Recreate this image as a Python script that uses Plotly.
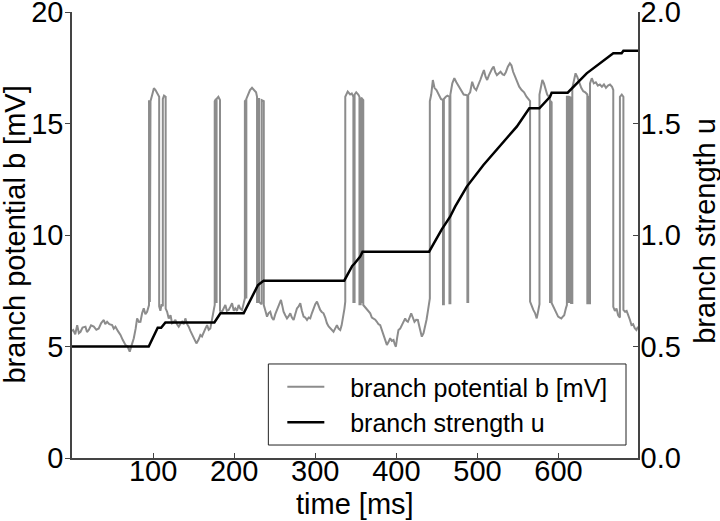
import plotly.graph_objects as go

# branch potential b [mV] over time [ms] as (t, b) pairs
potential = [
    (0, 5.7), (1.5, 5.74), (4, 5.55), (6.4, 5.96), (8.5, 5.6), (10.5, 5.66), (13, 5.85),
    (16.6, 5.89), (18.5, 5.65), (20.7, 5.74), (23.5, 5.95), (26.9, 5.89), (30, 5.75),
    (33, 5.81), (36, 6.05), (39.2, 6.19), (41, 6.0), (43.3, 6.11), (46, 6.0), (49.5, 5.96),
    (51.5, 5.8), (53.6, 5.89), (56.5, 5.7), (59.8, 5.52), (62.5, 5.3), (65.9, 5.07),
    (68.5, 5.0), (71.2, 4.77), (73.5, 5.05), (76.2, 5.37), (78.5, 5.8), (80.3, 6.26),
    (82.5, 6.1), (84.4, 6.11), (86.5, 6.5), (88.5, 6.71), (90.5, 6.45), (92.6, 6.56),
    (95, 6.86),
    (95, 16.0), (96, 16.0), (96, 7.0), (96.8, 7.0), (96.8, 16.0), (99, 16.3), (101, 16.58),
    (103, 16.5), (105, 16.35), (107.5, 16.2), (107.5, 6.8), (109, 6.6), (110.5, 6.9),
    (112, 6.8), (112, 16.1), (113.5, 16.25), (115.5, 16.2), (115.5, 6.7),
    (117.3, 6.56), (119.3, 6.26), (121.5, 6.4), (123.4, 6.04), (125.5, 6.1), (127.5, 6.19),
    (129.5, 6.0), (131.6, 5.89), (133.5, 6.0), (135.8, 6.11), (137.8, 6.0), (139.8, 6.26),
    (142, 6.0), (143.9, 5.89), (146, 5.7), (148.1, 5.52), (150.7, 5.3), (153.4, 5.14),
    (156, 5.3), (158.3, 5.52), (160.3, 5.45), (162.4, 5.66), (164.5, 5.8), (166.6, 5.96),
    (168.6, 5.75), (170.6, 5.81), (172.7, 6.2), (174.7, 6.56), (176, 6.86),
    (176, 16.0), (177.5, 16.1), (177.5, 7.0), (178.3, 7.0), (178.3, 16.1), (180.5, 16.2),
    (182.5, 16.05), (182.5, 6.6),
    (185, 6.56), (187, 6.7), (189.1, 6.86), (191, 6.6), (193.2, 6.64), (195.5, 6.8),
    (197.4, 6.94), (199.5, 6.6), (201.4, 6.71), (203.5, 6.6), (205.5, 6.86), (207.5, 6.7),
    (209.7, 6.64), (211.5, 6.9), (213.2, 7.16),
    (213.2, 16.0), (214.3, 16.05), (214.3, 7.2), (215, 7.2), (215, 16.1), (217, 16.3),
    (219.5, 16.5), (222, 16.6), (224.5, 16.5), (227, 16.4), (228.2, 16.2), (228.2, 7.0),
    (229.5, 7.0), (229.5, 16.1), (230.6, 16.1), (230.6, 7.0), (233.8, 6.9), (233.8, 16.05),
    (236.5, 16.0), (236.5, 6.86),
    (238.5, 6.6), (240.5, 6.34), (242.5, 6.5), (244.5, 6.56), (246.5, 6.3), (248.6, 6.19),
    (250.7, 6.45), (252.8, 6.64), (255, 6.8), (257.7, 7.09), (259.5, 6.8), (260.9, 6.56),
    (263, 6.4), (265.1, 6.26), (267, 6.35), (269.2, 6.49), (271.2, 6.3), (273.3, 6.19),
    (275.3, 6.45), (277.4, 6.71), (279.5, 6.8), (281.5, 6.94), (283.5, 6.6), (285.6, 6.34),
    (287.7, 6.3), (289.8, 6.19), (291.8, 6.3), (293.8, 6.26), (295.9, 6.5), (297.9, 6.71),
    (300, 6.9), (302.1, 7.01), (304, 6.8), (306.1, 6.64), (308, 6.55), (310.2, 6.49),
    (312.3, 6.3), (314.4, 6.04), (316.5, 5.9), (318.5, 5.81), (320.5, 5.7), (322.5, 5.66),
    (324.5, 5.8), (326.7, 5.96), (328.7, 5.8), (330.8, 5.74), (332.5, 5.95), (334.1, 6.26),
    (336, 6.7), (337, 7.01),
    (337, 16.2), (340, 16.43), (343, 16.3), (345, 16.35), (347, 16.2), (347, 7.0),
    (348.5, 7.0), (348.5, 16.3), (350.5, 16.4), (353, 16.3), (354.5, 16.2), (354.5, 6.9),
    (356, 6.9), (356, 16.1), (357.5, 16.15), (357.5, 7.0), (358.2, 7.0), (358.2, 16.1),
    (359.2, 16.05), (359.2, 6.86),
    (361.5, 6.75), (363.7, 6.64), (365.8, 6.55), (367.8, 6.49), (369.8, 6.3), (371.8, 6.26),
    (374, 6.2), (376, 6.11), (378, 6.0), (380.1, 5.96), (382, 5.75), (384.1, 5.52),
    (386.2, 5.3), (388.3, 5.07), (390.3, 5.2), (392.4, 5.37), (394.4, 5.25), (396.5, 5.29),
    (398, 5.1), (399.4, 4.99), (401, 5.4), (402.6, 5.74), (404.7, 5.8), (406.8, 5.96),
    (408.8, 6.1), (410.9, 6.26), (412.5, 6.15), (414.2, 6.11), (416.3, 6.3), (418.3, 6.49),
    (420.3, 6.3), (422.3, 6.11), (424.4, 6.2), (426.5, 6.19), (429, 5.8), (431.4, 5.44),
    (433.5, 5.6), (435.5, 5.89), (437.2, 6.2), (438.8, 6.56), (440.3, 6.9), (441.3, 7.16),
    (441.3, 16.0), (443, 16.3), (445, 16.95), (447, 16.6), (449.5, 16.5), (452, 16.3),
    (455, 16.1), (457.5, 16.05), (457.5, 6.9), (458.6, 6.9), (458.6, 16.1), (461, 16.2),
    (463, 16.25), (465.5, 16.2), (465.5, 6.94), (466.6, 6.94), (466.6, 16.3), (469, 16.8),
    (471.5, 17.03), (474, 16.85), (477, 16.65), (480, 16.45), (483, 16.3), (486, 16.28),
    (487.6, 16.25), (487.6, 7.0), (488.6, 7.0), (488.6, 16.28), (491, 16.4), (493.5, 16.87),
    (496, 16.6), (498.5, 16.5), (501, 16.7), (503.5, 16.95), (506, 17.2), (508, 17.4),
    (510, 17.1), (512, 16.95), (514, 17.15), (516, 17.32), (518, 17.45), (520, 17.55),
    (522, 17.3), (524, 17.17), (526.5, 17.25), (528.5, 17.32), (531, 17.2), (533, 17.17),
    (535, 17.3), (537.5, 17.55), (540, 17.7), (542, 17.6), (544, 17.32), (546.5, 17.1),
    (549, 16.9), (551.5, 16.65), (554.5, 16.5), (557.5, 16.4), (560.5, 16.2), (563, 16.1),
    (564.9, 16.0), (564.9, 7.01),
    (566.9, 6.8), (568.9, 6.64), (571, 6.5), (573.1, 6.26), (575, 6.6), (576.5, 6.9),
    (576.5, 16.3), (578, 16.6), (580, 16.95), (582, 16.8), (584, 16.5), (586, 16.3),
    (588, 16.2), (589.5, 16.1), (589.5, 7.0), (590.5, 7.0), (590.5, 16.0), (591.5, 15.95),
    (591.5, 6.95),
    (593.5, 6.8), (595.5, 6.71), (597.5, 6.5), (599.5, 6.34), (601.5, 6.3), (603.5, 6.26),
    (605.5, 6.35), (607, 6.4), (609, 6.7), (610.3, 6.86),
    (610.3, 16.2), (612, 16.2), (612, 7.0), (613.3, 7.0), (613.3, 16.2), (615.5, 16.15),
    (615.5, 6.95), (617, 6.95), (617, 16.6), (619, 16.9), (621, 17.25), (623, 17.1),
    (625.5, 16.8), (628, 16.6), (630.5, 16.45), (633, 16.4), (635.5, 16.3), (635.5, 6.94),
    (636.5, 6.94), (636.5, 16.2), (637.5, 16.2), (637.5, 6.94), (638.8, 6.94),
    (638.8, 16.8), (641, 17.03), (643.5, 16.8), (646, 16.85), (648.5, 16.7), (651, 16.75),
    (653.5, 16.65), (656, 16.75), (658.5, 16.6), (661, 16.7), (663.5, 16.75), (666, 16.65),
    (667.5, 16.5), (667.5, 6.78),
    (669.5, 6.6), (671.5, 6.7), (673.5, 6.4), (675.7, 6.3),
    (675.7, 16.2), (678, 16.3), (680, 16.2), (680, 6.64),
    (682, 6.56), (684, 6.6), (686, 6.34), (688, 6.2), (690, 5.96), (692, 6.0), (694, 5.82),
    (696, 5.74), (698, 5.89),
]

# branch strength u (right axis)
strength_t = [0, 94.6, 105.7, 109.9, 115.2, 175.6, 183, 211.7, 229.4, 231.5, 236.3,
              335.7, 345.6, 348.5, 355.4, 358.3, 440.4, 456, 466.3, 472.5, 486.9, 507.4,
              527.9, 548.5, 564, 576.4, 589.5, 591.5, 611.3, 634.7, 667.5, 677.8, 680, 698]
strength_u = [0.5, 0.5, 0.584, 0.584, 0.608, 0.608, 0.649, 0.649, 0.776, 0.783, 0.795,
              0.795, 0.861, 0.872, 0.903, 0.925, 0.925, 1.025, 1.082, 1.127, 1.217, 1.314,
              1.399, 1.486, 1.568, 1.568, 1.62, 1.638, 1.638, 1.725, 1.815, 1.815, 1.826, 1.826]

x_ticks = [100, 200, 300, 400, 500, 600]
left_ticks = [0, 5, 10, 15, 20]
right_ticks = [0.0, 0.5, 1.0, 1.5, 2.0]

b_t = [p[0] for p in potential]
b_v = [p[1] for p in potential]

font = "Liberation Sans, Arial, sans-serif"
axis_col = "#444444"
tick_font = dict(family=font, size=29, color="black")
pad = "\u00a0" * 3  # gap between legend line and its label

fig = go.Figure()
fig.add_trace(go.Scatter(x=b_t, y=b_v, mode="lines", name=pad + "branch potential b [mV]",
                         legendgroup="b", line=dict(color="#8c8c8c", width=2)))
fig.add_trace(go.Scatter(x=strength_t, y=strength_u, mode="lines",
                         name=pad + "branch strength u",
                         legendgroup="u", yaxis="y2", line=dict(color="black", width=2.5)))

axis_common = dict(showline=True, linecolor=axis_col, linewidth=1.5, tickcolor=axis_col,
                   showgrid=False, zeroline=False, automargin=False, tickfont=tick_font,
                   ticklen=5, tickwidth=1, ticklabeloverflow="allow")

fig.update_layout(
    width=720, height=521,
    margin=dict(l=72, r=82, t=12, b=63),
    paper_bgcolor="white", plot_bgcolor="white",
    font=dict(family=font, size=29, color="black"),
    showlegend=True,
    legend=dict(x=0.3716, y=0.029, xanchor="left", yanchor="bottom",
                bgcolor="rgba(0,0,0,0)", borderwidth=0,
                font=dict(family=font, size=25, color="black"),
                tracegroupgap=0, itemwidth=37),
    xaxis=dict(range=[0, 698], tickvals=x_ticks, ticks="inside", ticklabelstandoff=-14,
               **axis_common),
    yaxis=dict(range=[0, 20], tickvals=left_ticks, ticks="outside", ticklabelstandoff=-4,
               **axis_common),
    yaxis2=dict(range=[0, 2], tickvals=right_ticks, tickformat=".1f", ticks="inside",
                ticklabelstandoff=-5, overlaying="y", side="right", **axis_common),
    # legend frame
    shapes=[dict(type="rect", xref="paper", yref="paper", x0=0.3469, x1=0.9788,
                 y0=0.0291, y1=0.2108, fillcolor="white", layer="above",
                 line=dict(color="#222222", width=1))],
    annotations=[
        dict(text="time [ms]", xref="paper", yref="paper", x=0.5, y=-0.103,
             xanchor="center", yanchor="middle", showarrow=False,
             font=dict(family=font, size=29, color="black")),
        dict(text="branch potential b [mV]", xref="paper", yref="paper", x=-0.1, y=0.502,
             xanchor="center", yanchor="middle", textangle=-90, showarrow=False,
             font=dict(family=font, size=29, color="black")),
        dict(text="branch strength u", xref="paper", yref="paper", x=1.118, y=0.509,
             xanchor="center", yanchor="middle", textangle=-90, showarrow=False,
             font=dict(family=font, size=29, color="black")),
    ],
)

# drop the browser's default 8px body margin so the figure sits at the page origin
fig.write_html("out.html", config={"displayModeBar": False},
               post_script="document.body.style.margin = '0px';")
